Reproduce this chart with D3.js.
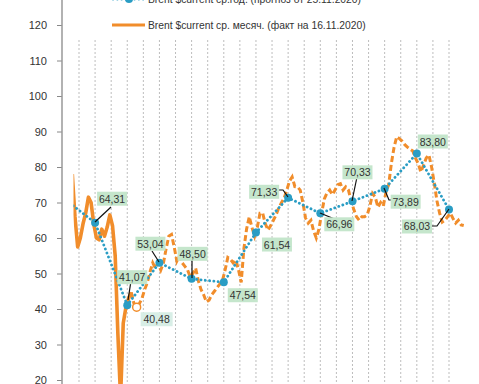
<!DOCTYPE html>
<html>
<head>
<meta charset="utf-8">
<script src="https://cdn.jsdelivr.net/npm/d3@7/dist/d3.min.js"></script>
<style>
  body { margin: 0; background: #fff; }
  svg { display: block; font-family: "Liberation Sans", Arial, sans-serif; }
</style>
</head>
<body>
<div id="chart"></div>
<script>
// y axis ticks
var yTicks = [20, 30, 40, 50, 60, 70, 80, 90, 100, 110, 120];

// annual averages (forecast), plotted mid-year
var annualYears = [2018, 2019, 2020, 2021, 2022, 2023, 2024, 2025, 2026, 2027, 2028, 2029, 2030];
var annualValues = [71.3, 64.31, 41.07, 53.04, 48.50, 47.54, 61.54, 71.33, 66.96, 70.33, 73.89, 83.80, 68.03];
var annualLabels = ["", "64,31", "41,07", "53,04", "48,50", "47,54", "61,54", "71,33", "66,96", "70,33", "73,89", "83,80", "68,03"];

// monthly actual, from Oct 2018
var actualStart = [2018, 10];
var actualValues = [78, 66, 57.5, 60, 64, 67, 71.5, 70, 64, 60, 59.5, 62.5, 60.5, 63, 66.5,
  63.5, 55, 33, 15, 36, 40.5, 43, 44.7];

// monthly forecast, from Aug 2020
var forecastStart = [2020, 8];
var forecastValues = [
  44.7, 41.5, 40.5, 41.5, 43, 45.5, 47.5, 50.5, 53, 51.5, 53, 51,
  53, 57, 60.5, 61, 57.5, 53.5, 55, 53, 52, 51, 49, 50,
  51.5, 48, 45.5, 44, 42, 42.5, 44, 45, 46, 47, 48, 51,
  54.5, 54, 53, 53.8, 51, 47.5, 57, 62.5, 66, 63, 60.5, 63,
  67, 67, 64, 62.2, 63.5, 65, 66.5, 68.5, 69.9, 71.2, 73.5, 76,
  77.2, 74.5, 74.4, 73.5, 70, 65.6, 64.2, 65, 62, 60, 62.5, 67,
  71, 72.7, 73.5, 72.2, 73.5, 75, 75.3, 73.5, 74.4, 73.5, 70.5, 68,
  66, 65, 66, 66, 66.5, 69, 72.5, 71.5, 68.7, 70, 69, 73,
  75, 81, 85.5, 88.5, 88, 87.3, 86.3, 85.6, 85, 84.5, 82.5, 81,
  78.6, 80.5, 82.5, 83.4, 80, 75.5, 70.5, 67, 64.5, 65, 66, 67,
  65.5, 64.2, 65, 63.7, 63.5];

// October 2020 actual average
var octPoint = { year: 2020, month: 10, value: 40.5, label: "40,48" };

var legendItems = [
  "Brent  $current  ср.год. (прогноз от  25.11.2020)",
  "Brent $current ср. месяч. (факт на 16.11.2020)"
];

// label box offsets from their point (layout only)
var labelOffsets = {
  "2019": [17, -24, [[95, 222], [111, 207]]],
  "2020": [5, -28, [[131, 281], [128, 300]]],
  "2021": [-9, -19, [[152, 251], [159, 262]]],
  "2022": [1, -25, [[192, 260], [192, 278]]],
  "2023": [19, 13, null],
  "2024": [21, 12, null],
  "2025": [-24, -6, [[278, 190], [283, 190], [288, 197]]],
  "2026": [19, 11, [[320, 213], [337, 220]]],
  "2027": [5, -29, [[357, 177], [352, 201]]],
  "2028": [21, 13, [[384, 188], [389, 200], [391, 200]]],
  "2029": [16, -12, null],
  "2030": [-32, 17, [[449, 209], [437, 226], [432, 226]]]
};

var W = 479, H = 384;
var orange = "#f18d2b", blue = "#2a9dc4", boxGreen = "#c5e6cc";

var svg = d3.select("#chart").append("svg").attr("width", W).attr("height", H);

var x = d3.scaleLinear().domain([2019, 2030.5]).range([79, 449]);
var y = d3.scaleLinear().domain([20, 120]).range([380, 25]);

function monthT(startYear, startMonth, i) {
  var m = startMonth - 1 + i;
  return startYear + Math.floor(m / 12) + ((m % 12) + 0.5) / 12;
}

// vertical dashed gridlines every half year
var gridT = d3.range(2019, 2030.51, 0.5);
svg.append("g").selectAll("line").data(gridT).enter().append("line")
  .attr("x1", function(d) { return x(d); }).attr("x2", function(d) { return x(d); })
  .attr("y1", 40).attr("y2", H)
  .attr("stroke", "#bdbdbd").attr("stroke-width", 1).attr("stroke-dasharray", "2,2");

// y axis
var yAxis = d3.axisLeft(y).tickValues(yTicks).tickSize(5).tickPadding(10);
var ag = svg.append("g").attr("transform", "translate(62,0)").call(yAxis);
ag.select(".domain").remove();
ag.selectAll(".tick line").attr("stroke", "#888");
ag.selectAll(".tick text").attr("fill", "#333").style("font-size", "11px")
  .style("font-family", "Liberation Sans, Arial, sans-serif");
svg.append("line").attr("x1", 62).attr("x2", 62).attr("y1", 0).attr("y2", H)
  .attr("stroke", "#999").attr("stroke-width", 1.5);

// clip for series
svg.append("clipPath").attr("id", "plot").append("rect")
  .attr("x", 73.5).attr("y", 0).attr("width", W - 73.5).attr("height", H);
var plot = svg.append("g").attr("clip-path", "url(#plot)");

var line = d3.line().x(function(d) { return x(d[0]); }).y(function(d) { return y(d[1]); });

var actualPts = actualValues.map(function(v, i) { return [monthT(actualStart[0], actualStart[1], i), v]; });
var forecastPts = forecastValues.map(function(v, i) { return [monthT(forecastStart[0], forecastStart[1], i), v]; });
var annualPts = annualValues.map(function(v, i) { return [annualYears[i] + 0.5, v]; });

plot.append("path").datum(forecastPts).attr("d", line)
  .attr("fill", "none").attr("stroke", orange).attr("stroke-width", 3)
  .attr("stroke-dasharray", "6,3");

plot.append("path").datum(actualPts).attr("d", line)
  .attr("fill", "none").attr("stroke", orange).attr("stroke-width", 3.6)
  .attr("stroke-linejoin", "round");

// October point
var octT = monthT(octPoint.year, octPoint.month, 0);
plot.append("circle").attr("cx", x(octT)).attr("cy", y(octPoint.value)).attr("r", 4)
  .attr("fill", "#fff").attr("stroke", orange).attr("stroke-width", 1.5);

plot.append("path").datum(annualPts).attr("d", line)
  .attr("fill", "none").attr("stroke", blue).attr("stroke-width", 2.8)
  .attr("stroke-linecap", "round").attr("stroke-dasharray", "0.1,4.2");

plot.selectAll(".mk").data(annualPts.slice(1)).enter().append("circle")
  .attr("cx", function(d) { return x(d[0]); }).attr("cy", function(d) { return y(d[1]); })
  .attr("r", 4).attr("fill", blue);

// labels
var lg = svg.append("g");
annualPts.forEach(function(p, i) {
  var off = labelOffsets[annualYears[i]];
  if (!off) return;
  var px = x(p[0]), py = y(p[1]);
  if (off[2]) {
    lg.append("polyline").attr("points", off[2].map(function(q) { return q.join(","); }).join(" "))
      .attr("fill", "none").attr("stroke", "#111").attr("stroke-width", 1.2);
  }
  var cx = px + off[0], cy = py + off[1];
  lg.append("rect").attr("x", cx - 15).attr("y", cy - 7).attr("width", 30).attr("height", 14)
    .attr("fill", boxGreen);
  lg.append("text").attr("x", cx).attr("y", cy + 4).attr("text-anchor", "middle")
    .style("font-size", "10.5px").attr("fill", "#333").text(annualLabels[i]);
});
var ox = x(octT) + 20, oy = y(octPoint.value) + 12;
lg.append("rect").attr("x", ox - 16).attr("y", oy - 7).attr("width", 32).attr("height", 14)
  .attr("fill", "#d8eee6");
lg.append("text").attr("x", ox).attr("y", oy + 4).attr("text-anchor", "middle")
  .style("font-size", "10.5px").attr("fill", "#333").text(octPoint.label);

// legend
var leg = svg.append("g");
leg.append("line").attr("x1", 113).attr("x2", 145).attr("y1", -1).attr("y2", -1)
  .attr("stroke", blue).attr("stroke-width", 2.8).attr("stroke-linecap", "round")
  .attr("stroke-dasharray", "0.1,4.2");
leg.append("circle").attr("cx", 129).attr("cy", -1).attr("r", 4).attr("fill", blue);
leg.append("line").attr("x1", 112).attr("x2", 145).attr("y1", 25).attr("y2", 25)
  .attr("stroke", orange).attr("stroke-width", 3);
leg.selectAll("text").data(legendItems).enter().append("text")
  .attr("x", 148).attr("y", function(d, i) { return i * 26 + 2.5; })
  .style("font-size", "10.3px").attr("fill", "#333").text(function(d) { return d; });
</script>
</body>
</html>
